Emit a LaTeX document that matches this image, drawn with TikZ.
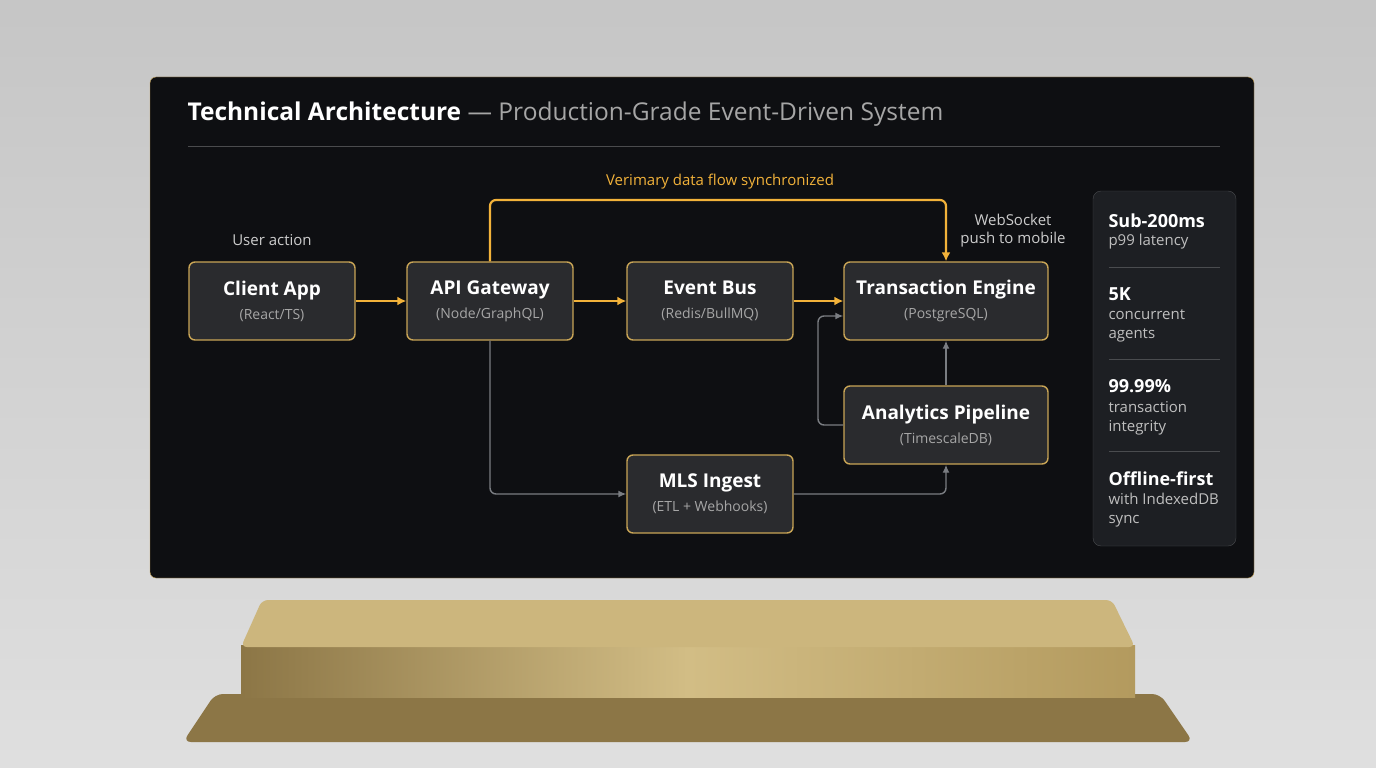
\documentclass[tikz,border=0pt]{standalone}
\usepackage{fontspec}
\setmainfont{Open Sans}
\usetikzlibrary{arrows.meta}
\definecolor{panel}{HTML}{0E0F12}
\definecolor{boxfill}{HTML}{2A2B2E}
\definecolor{gold}{HTML}{F2B23A}
\definecolor{goldline}{HTML}{C9A556}
\definecolor{wire}{HTML}{7A7D82}
\definecolor{side}{HTML}{1D1F23}
\definecolor{brass}{HTML}{B39A5E}
\definecolor{brasslight}{HTML}{D2BD85}
\definecolor{brassdark}{HTML}{8C7646}
\newcommand{\subtxt}[1]{{\fontsize{14}{16}\selectfont\mdseries\color{white!65!black}#1}}

\begin{document}
\begin{tikzpicture}[x=1pt,y=-1pt]
	\tikzstyle{cnode} = [draw=goldline,line width=1.4pt,rounded corners=6pt,fill=boxfill,minimum height=78pt,align=center,text=white,font=\fontsize{19}{23}\selectfont\bfseries]
	\tikzstyle{gedge} = [-{Latex[length=9pt,width=9pt]},gold,line width=2.2pt]
	\tikzstyle{wedge} = [-{Latex[length=8pt,width=7pt]},wire,line width=1.4pt]
	\tikzstyle{stat} = [anchor=west,text=white,font=\fontsize{18}{20}\selectfont\bfseries]
	\tikzstyle{statl} = [anchor=west,text=white!75!black,font=\fontsize{15}{19}\selectfont]

	% backdrop and pedestal
	\fill[top color=gray!45,bottom color=gray!25] (0,0) rectangle (1376,768);
	\fill[brassdark,rounded corners=8pt] (183,742) -- (215,694) -- (1160,694) -- (1193,742) -- cycle;
	\fill[left color=brassdark,right color=brass,middle color=brasslight] (241,645) rectangle (1135,697);
	\fill[brasslight!80!brass,rounded corners=6pt] (241,647) -- (262,600) -- (1112,600) -- (1135,647) -- cycle;

	% panel
	\fill[panel,draw=goldline,rounded corners=6pt] (150,77) rectangle (1254,578);
	\node[anchor=west,text=white,font=\fontsize{24.5}{30}\selectfont] (title) at (184,114)
		{\textbf{Technical Architecture} \color{white!65!black}— Production-Grade Event-Driven System};
	\draw[white!25!panel] (188,146) -- (1220,146);

	\node[cnode,minimum width=166pt] (client) at (272,301) {Client App\\[1pt]\subtxt{(React/TS)}};
	\node[cnode,minimum width=166pt] (api) at (490,301) {API Gateway\\[1pt]\subtxt{(Node/GraphQL)}};
	\node[cnode,minimum width=166pt] (bus) at (710,301) {Event Bus\\[1pt]\subtxt{(Redis/BullMQ)}};
	\node[cnode,minimum width=204pt] (txn) at (946,301) {Transaction Engine\\[1pt]\subtxt{(PostgreSQL)}};
	\node[cnode,minimum width=204pt] (ana) at (946,425) {Analytics Pipeline\\[1pt]\subtxt{(TimescaleDB)}};
	\node[cnode,minimum width=166pt] (mls) at (710,494) {MLS Ingest\\[1pt]\subtxt{(ETL + Webhooks)}};

	\node[text=white!80!black,font=\fontsize{15}{17}\selectfont] (user) at (272,240) {User action};
	\node[text=white!80!black,align=center,font=\fontsize{15}{18}\selectfont] (ws) at (1013,231) {WebSocket\\push to mobile};
	\node[text=gold,font=\fontsize{15}{17}\selectfont] (flow) at (720,182) {Verimary data flow synchronized};

	\draw[gedge] (client) -- (api);
	\draw[gedge] (api) -- (bus);
	\draw[gedge] (bus) -- (txn);
	\draw[gedge,rounded corners=6pt] (api.north) -- (490,200) -- (946,200) -- (txn.north);

	\draw[wedge,rounded corners=6pt] (api.south) -- (490,494) -- (mls.west);
	\draw[wedge,rounded corners=6pt] (mls.east) -- (946,494) -- (ana.south);
	\draw[wedge,rounded corners=6pt] (ana.west) -- (818,425) -- (818,316) -- (txn.west |- 0,316);
	\draw[wedge] (ana.north) -- (txn.south);

	% stats column
	\fill[side,draw=white!20!side,rounded corners=8pt] (1093,191) rectangle (1236,546);
	\node[stat] (s1) at (1105,221) {Sub-200ms};
	\node[statl] (s1a) at (1105,242) {p99 latency};
	\draw[white!20!side] (1109,267) -- (1220,267);
	\node[stat] (s2) at (1105,294) {5K};
	\node[statl,align=left] (s2a) at (1105,326) {concurrent\\agents};
	\draw[white!20!side] (1109,359) -- (1220,359);
	\node[stat] (s3) at (1105,386) {99.99\%};
	\node[statl,align=left] (s3a) at (1105,418) {transaction\\integrity};
	\draw[white!20!side] (1109,451) -- (1220,451);
	\node[stat] (s4) at (1105,479) {Offline-first};
	\node[statl,align=left] (s4a) at (1105,510) {with IndexedDB\\sync};
\end{tikzpicture}
\end{document}
